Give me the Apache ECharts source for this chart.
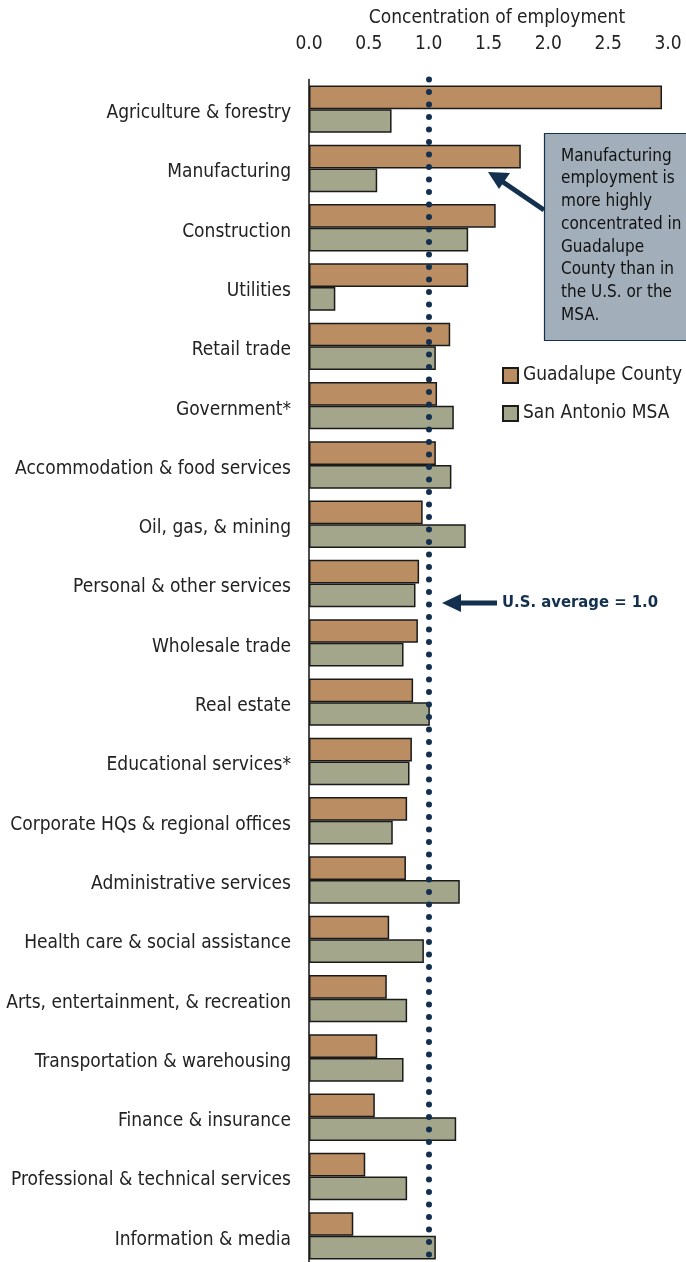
<!DOCTYPE html>
<html>
<head>
<meta charset="utf-8">
<script src="https://cdn.jsdelivr.net/npm/echarts@6/dist/echarts.min.js"></script>
<style>
  html, body { margin: 0; padding: 0; background: #fff; }
  #chart { width: 686px; height: 1262px; }
</style>
</head>
<body>
<div id="chart"></div>
<script>
const categories = [
  'Agriculture & forestry', 'Manufacturing', 'Construction', 'Utilities',
  'Retail trade', 'Government*', 'Accommodation & food services',
  'Oil, gas, & mining', 'Personal & other services', 'Wholesale trade',
  'Real estate', 'Educational services*', 'Corporate HQs & regional offices',
  'Administrative services', 'Health care & social assistance',
  'Arts, entertainment, & recreation', 'Transportation & warehousing',
  'Finance & insurance', 'Professional & technical services', 'Information & media'
];
const guadalupe = [2.95, 1.77, 1.56, 1.33, 1.18, 1.07, 1.06, 0.95, 0.92, 0.91,
  0.87, 0.86, 0.82, 0.81, 0.67, 0.65, 0.57, 0.55, 0.47, 0.37];
const sanAntonio = [0.69, 0.57, 1.33, 0.22, 1.06, 1.21, 1.19, 1.31, 0.89, 0.79,
  1.01, 0.84, 0.70, 1.26, 0.96, 0.82, 0.79, 1.23, 0.82, 1.06];
const usAverage = 1.0;

const FONT = '"Liberation Sans Narrow", "DejaVu Sans Condensed", sans-serif';
const NAVY = '#13304f';

const chart = echarts.init(document.getElementById('chart'));

const barStyle = (color) => ({
  color: color,
  borderColor: '#1a1a1a',
  borderWidth: 1.5
});

chart.setOption({
  animation: false,
  textStyle: { fontFamily: FONT },
  grid: {
    left: 309,
    right: 18,
    top: 79.5,
    height: 1186,
    outerBoundsMode: 'none'   // let the last band run past the bottom edge
  },
  legend: {
    orient: 'vertical',
    left: 497,
    top: 361,
    icon: 'rect',
    itemWidth: 15,
    itemHeight: 15,
    itemGap: 19,
    textStyle: { fontFamily: FONT, fontSize: 19, color: '#222' },
    data: ['Guadalupe County', 'San Antonio MSA']
  },
  xAxis: {
    type: 'value',
    position: 'top',
    min: 0,
    max: 3,
    interval: 0.5,
    name: 'Concentration of employment',
    nameLocation: 'middle',
    nameGap: 52,
    nameTextStyle: { fontFamily: FONT, fontSize: 19, color: '#222', padding: [0, 0, 0, 17] },
    axisLine: { show: false },
    axisTick: { show: false },
    splitLine: { show: false },
    axisLabel: {
      fontFamily: FONT,
      fontSize: 19,
      color: '#222',
      margin: 26,
      formatter: (v) => v.toFixed(1)
    }
  },
  yAxis: {
    type: 'category',
    inverse: true,
    data: categories,
    axisLine: { show: true, lineStyle: { color: '#111', width: 1.5 } },
    axisTick: { show: false },
    axisLabel: {
      margin: 18,
      formatter: (v) => '{c|' + v + '}',
      rich: {
        c: {
          fontFamily: FONT,
          fontSize: 19,
          color: '#222',
          padding: [8, 0, 0, 0]
        }
      }
    }
  },
  series: [
    {
      name: 'Guadalupe County',
      type: 'bar',
      data: guadalupe,
      barCategoryGap: '20%',
      barGap: '0%',
      itemStyle: barStyle('#ba8e62'),
      markLine: {
        silent: true,
        symbol: 'none',
        z: 10,
        label: { show: false },
        lineStyle: {
          color: NAVY,
          width: 6,
          type: [0, 12.5],
          cap: 'round'
        },
        data: [{ xAxis: usAverage }]
      }
    },
    {
      name: 'San Antonio MSA',
      type: 'bar',
      data: sanAntonio,
      barCategoryGap: '20%',
      barGap: '0%',
      itemStyle: barStyle('#a3a68a')
    }
  ],
  graphic: [
    // annotation box
    {
      type: 'rect',
      z: 20,
      shape: { x: 544.5, y: 133.5, width: 150, height: 207 },
      style: { fill: '#a2aeb9', stroke: NAVY, lineWidth: 1.2 }
    },
    {
      type: 'text',
      z: 21,
      left: 561,
      top: 145,
      style: {
        text: 'Manufacturing\nemployment is\nmore highly\nconcentrated in\nGuadalupe\nCounty than in\nthe U.S. or the\nMSA.',
        fontFamily: FONT,
        fontSize: 17,
        lineHeight: 22.7,
        fill: '#111'
      }
    },
    // arrow from box to manufacturing bar
    {
      type: 'line',
      z: 20,
      shape: { x1: 544, y1: 210, x2: 500, y2: 180 },
      style: { stroke: NAVY, lineWidth: 5 }
    },
    {
      type: 'polygon',
      z: 20,
      shape: { points: [[488, 172], [510, 173], [499, 189]] },
      style: { fill: NAVY }
    },
    // U.S. average arrow
    {
      type: 'line',
      z: 20,
      shape: { x1: 458, y1: 603, x2: 497, y2: 603 },
      style: { stroke: NAVY, lineWidth: 5 }
    },
    {
      type: 'polygon',
      z: 20,
      shape: { points: [[442, 603], [461, 594], [461, 612]] },
      style: { fill: NAVY }
    },
    {
      type: 'text',
      z: 20,
      left: 502,
      top: 594,
      style: {
        text: 'U.S. average = 1.0',
        fontFamily: FONT,
        fontSize: 16.5,
        fontWeight: 'bold',
        fill: NAVY
      }
    }
  ]
});
</script>
</body>
</html>
